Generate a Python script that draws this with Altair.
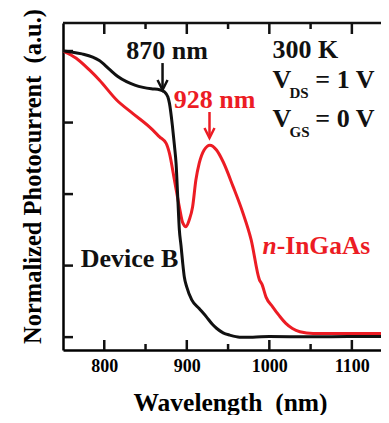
import altair as alt
import pandas as pd

RED = "#ec1c24"
BLACK = "#111111"
FONT = "Liberation Serif"

# Device B (black)
wl_b = [750, 760, 773, 786, 794, 806, 816, 827, 837, 847, 857, 867, 873, 877, 879, 882.5, 885,
        887, 889, 891, 893, 895, 897, 900, 906, 915, 924, 931, 936, 944, 952, 964, 980, 1000,
        1050, 1100, 1145]
v_b = [1.0, 0.997, 0.99, 0.979, 0.967, 0.937, 0.912, 0.893, 0.881, 0.873, 0.868, 0.865, 0.857,
       0.84, 0.817, 0.74, 0.67, 0.607, 0.49, 0.374, 0.32, 0.26, 0.21, 0.175, 0.13, 0.10, 0.07,
       0.045, 0.031, 0.015, 0.007, 0.0, 0.0, 0.002, 0.001, 0.002, 0.002]

# n-InGaAs (red)
wl_r = [750, 766, 782, 794, 815, 834, 855, 867, 875, 879, 885, 891, 895, 899, 903, 907, 911,
        915, 921, 928, 936, 944, 956, 968, 978, 988, 991, 996, 1004, 1012, 1020, 1028, 1037,
        1053, 1100, 1145]
v_r = [1.0, 0.975, 0.934, 0.899, 0.829, 0.783, 0.734, 0.70, 0.677, 0.642, 0.549, 0.455, 0.40,
       0.386, 0.41, 0.455, 0.549, 0.607, 0.654, 0.671, 0.654, 0.613, 0.527, 0.434, 0.34, 0.20,
       0.185, 0.14, 0.106, 0.075, 0.048, 0.03, 0.019, 0.013, 0.013, 0.013]

x_major = [800, 900, 1000, 1100]
x_minor = [850, 950, 1050]
y_ticks = [0, 0.25, 0.5, 0.75, 1.0]

# annotations: text, wavelength, value, font size, colour, style, align
notes = [
    ("870 nm", 876, 0.972, 26, BLACK, "normal", "center"),
    ("928 nm", 933.6, 0.80, 26, RED, "normal", "center"),
    ("300 K", 1003.8, 0.9755, 26, BLACK, "normal", "left"),
    ("V", 1003.8, 0.8706, 26, BLACK, "normal", "left"),
    ("DS", 1024.4, 0.8357, 15, BLACK, "normal", "left"),
    ("= 1 V", 1127.4, 0.8706, 26, BLACK, "normal", "right"),
    ("V", 1003.8, 0.734, 26, BLACK, "normal", "left"),
    ("GS", 1024.4, 0.699, 15, BLACK, "normal", "left"),
    ("= 0 V", 1127.4, 0.734, 26, BLACK, "normal", "right"),
    ("Device B", 830.6, 0.245, 26, BLACK, "normal", "center"),
    ("n", 1009, 0.29, 25.5, RED, "italic", "right"),
    ("-InGaAs", 1009, 0.29, 25.5, RED, "normal", "left"),
]

# arrows: wavelength, top value, tip value, colour
arrows = [(870.6, 0.958, 0.864, BLACK), (927.5, 0.787, 0.696, RED)]

W, H = 318, 327
xs = alt.Scale(domain=[750, 1135.3], nice=False, zero=False)
ys = alt.Scale(domain=[-0.045, 1.098], nice=False, zero=False)

X = alt.X("wl:Q", scale=xs, axis=alt.Axis(
    values=x_major, format="d", ticks=False, tickSize=0, grid=False, domain=True,
    labelFont=FONT, labelFontWeight="bold", labelFontSize=18, labelPadding=7,
    labelColor="black", title="Wavelength\u00a0\u00a0(nm)", titleFont=FONT,
    titleFontWeight="bold", titleFontSize=25.5, titlePadding=15, titleX=167,
    titleColor="black"))
Y = alt.Y("v:Q", scale=ys, axis=alt.Axis(
    labels=False, ticks=False, tickSize=0, grid=False, domain=True,
    title="Normalized Photocurrent\u00a0\u00a0(a.u.)", titleFont=FONT,
    titleFontWeight="bold", titleFontSize=24.5, titlePadding=18, titleY=153,
    titleColor="black"))

df_b = pd.DataFrame({"wl": wl_b, "v": v_b})
df_r = pd.DataFrame({"wl": wl_r, "v": v_r})
df_maj = pd.DataFrame({"wl": x_major})
df_min = pd.DataFrame({"wl": x_minor})
df_y = pd.DataFrame({"v": y_ticks})

TW = 2.5
layers = []
# ticks (inward)
layers.append(alt.Chart(df_maj).mark_rule(color=BLACK, strokeWidth=TW).encode(
    x=X, y=alt.value(H), y2=alt.value(H - 10)))
layers.append(alt.Chart(df_min).mark_rule(color=BLACK, strokeWidth=TW).encode(
    x=X, y=alt.value(H), y2=alt.value(H - 6)))
layers.append(alt.Chart(df_maj).mark_rule(color=BLACK, strokeWidth=TW).encode(
    x=X, y=alt.value(0), y2=alt.value(11)))
layers.append(alt.Chart(df_min).mark_rule(color=BLACK, strokeWidth=TW).encode(
    x=X, y=alt.value(0), y2=alt.value(6)))
layers.append(alt.Chart(df_y).mark_rule(color=BLACK, strokeWidth=TW).encode(
    y=Y, x=alt.value(0), x2=alt.value(10)))
# top border
layers.append(alt.Chart(df_maj.head(1)).mark_rule(color=BLACK, strokeWidth=TW).encode(
    x=alt.value(0), x2=alt.value(W + 5), y=alt.value(0)))

# curves
layers.append(alt.Chart(df_r).mark_line(color=RED, strokeWidth=3, interpolate="monotone",
                                        clip=True).encode(x=X, y=Y))
layers.append(alt.Chart(df_b).mark_line(color=BLACK, strokeWidth=3, interpolate="monotone",
                                        clip=True).encode(x=X, y=Y))

# arrows
for wl, top, tip, col in arrows:
    d = pd.DataFrame({"wl": [wl], "v": [top], "v2": [tip]})
    layers.append(alt.Chart(d).mark_rule(color=col, strokeWidth=2.5).encode(
        x=X, y=Y, y2="v2:Q"))
    h = pd.DataFrame({"wl": [wl], "v": [tip + 0.0175]})
    layers.append(alt.Chart(h).mark_point(
        shape="M-1,-1L0,1L1,-1", filled=False, color=col, strokeWidth=2.5, size=100,
        opacity=1).encode(x=X, y=Y))

# texts
for txt, wl, v, fs, col, style, al in notes:
    d = pd.DataFrame({"wl": [wl], "v": [v], "t": [txt]})
    layers.append(alt.Chart(d).mark_text(
        font=FONT, fontWeight="bold", fontStyle=style, fontSize=fs, color=col,
        align=al, baseline="alphabetic").encode(x=X, y=Y, text="t:N"))

chart = alt.layer(*layers).properties(
    width=W, height=H,
    autosize=alt.AutoSizeParams(type="none"),
    padding={"left": 55, "top": 15, "right": 0, "bottom": 65},
).configure_view(stroke=None).configure_axis(
    domainColor="black", domainWidth=TW)

chart.save("out.html", embed_options={"renderer": "svg", "actions": False})
